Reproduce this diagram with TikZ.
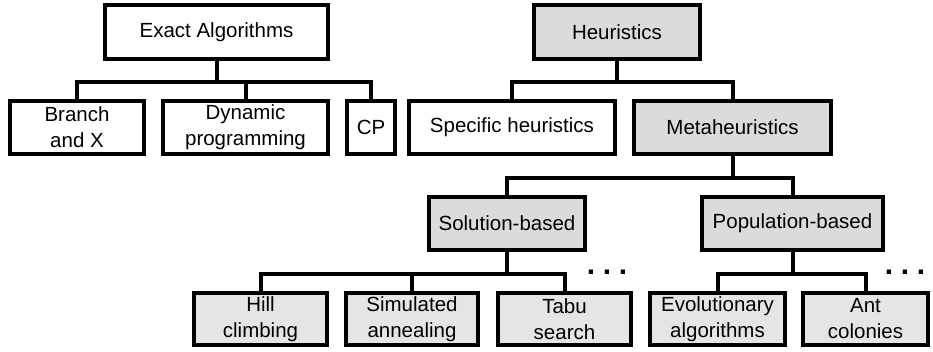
\documentclass[tikz,border=0pt]{standalone}
\usepackage{fontspec}
\setmainfont{Liberation Sans}
\begin{document}
\begin{tikzpicture}[x=1pt,y=1pt,
  box/.style={draw,line width=4pt,minimum height=53pt,inner sep=0pt,align=center,
    font=\fontsize{20.5}{26}\selectfont},
  hbox/.style={box,fill=black!14},
  lbox/.style={box,fill=black!10},
  link/.style={line width=4pt},
  more/.style={inner sep=0pt,anchor=base,font=\fontsize{30}{30}\bfseries}]
\useasboundingbox (0,0) rectangle (933,-351);

% top level
\node[box,minimum width=223pt,minimum height=54pt] (exact) at (216.5,-32) {Exact Algorithms};
\node[hbox,minimum width=166pt,minimum height=54pt] (heur) at (617,-32) {Heuristics};

% second level
\node[box,minimum width=134pt] (branch) at (77,-127.5) {Branch\\and X};
\node[box,minimum width=165pt] (dynprog) at (245.5,-127.5) {Dynamic\\programming};
\node[box,minimum width=48pt] (cp) at (371,-127.5) {CP};
\node[box,minimum width=206pt] (spec) at (512,-127.5) {Specific heuristics};
\node[hbox,minimum width=197pt] (meta) at (732.5,-127.5) {Metaheuristics};

% third level
\node[hbox,minimum width=156pt] (solb) at (507,-223.5) {Solution-based};
\node[hbox,minimum width=181pt] (popb) at (792.5,-223.5) {Population-based};

% leaves
\node[lbox,minimum width=133pt,minimum height=52pt] (hill) at (260.5,-319) {Hill\\climbing};
\node[lbox,minimum width=132pt,minimum height=52pt] (simann) at (412,-319) {Simulated\\annealing};
\node[lbox,minimum width=133pt,minimum height=52pt] (tabu) at (564.5,-319) {Tabu\\search};
\node[lbox,minimum width=135pt,minimum height=52pt] (evol) at (717.5,-319) {Evolutionary\\algorithms};
\node[lbox,minimum width=125pt,minimum height=52pt] (ant) at (865.5,-319) {Ant\\colonies};

\node[more] (soldots) at (607,-274) {.\hspace{7.7pt}.\hspace{7.7pt}.};
\node[more] (popdots) at (905,-274) {.\hspace{7.7pt}.\hspace{7.7pt}.};

% connectors
\foreach \c in {branch,dynprog,cp}
  \draw[link] (exact.south) -- ++(0,-21) -| (\c.north);
\foreach \c in {spec,meta}
  \draw[link] (heur.south) -- ++(0,-21) -| (\c.north);
\foreach \c in {solb,popb}
  \draw[link] (meta.south) -- ++(0,-22) -| (\c.north);
\foreach \c in {hill,simann,tabu}
  \draw[link] (solb.south) -- ++(0,-22) -| (\c.north);
\foreach \c in {evol,ant}
  \draw[link] (popb.south) -- ++(0,-22) -| (\c.north);
\end{tikzpicture}
\end{document}
